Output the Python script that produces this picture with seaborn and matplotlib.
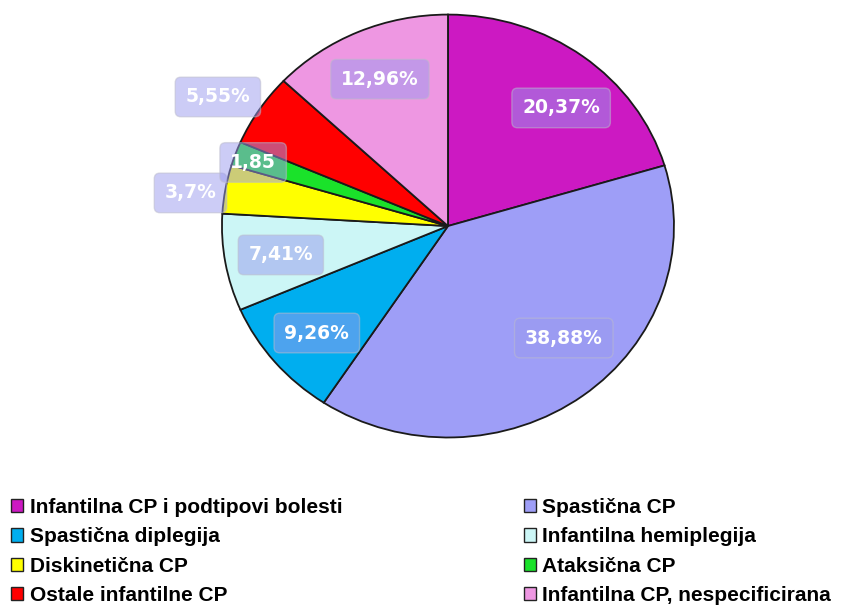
import numpy as np
import matplotlib
matplotlib.use("Agg")
import matplotlib.pyplot as plt
import seaborn as sns

categories = [
    "Infantilna CP i podtipovi bolesti",
    "Spastična CP",
    "Spastična diplegija",
    "Infantilna hemiplegija",
    "Diskinetična CP",
    "Ataksična CP",
    "Ostale infantilne CP",
    "Infantilna CP, nespecificirana",
]
values = [20.37, 38.88, 9.26, 7.41, 3.7, 1.85, 5.55, 12.96]
value_labels = ["20,37%", "38,88%", "9,26%", "7,41%", "3,7%", "1,85", "5,55%", "12,96%"]
colors = ["#CC19C2", "#9E9EF7", "#00AEEF", "#CCF6F6", "#FFFF00", "#1AE22A", "#FF0000", "#EE97E2"]

# value label placement: radial distance (pie radius = 1) and angle offset from the wedge middle
label_r = [0.75, 0.737, 0.77, 0.752, 1.15, 0.913, 1.187, 0.757]
label_dtheta = [-5.2, 7.4, 1.1, 0.5, 2.2, 0.8, 2.4, 0.1]

sns.set_theme(style="white")
plt.rcParams["font.family"] = ["Liberation Sans", "DejaVu Sans"]

fig = plt.figure(figsize=(8.43, 6.05), dpi=100)
ax = fig.add_axes([0.2633, 0.2769, 0.5362, 0.699])

wedges, _ = ax.pie(
    values,
    colors=colors,
    startangle=90,
    counterclock=False,
    radius=1,
    wedgeprops=dict(edgecolor="#1a1a1a", linewidth=1.3),
)
ax.set_aspect("auto")
ax.set_xlim(-1, 1)
ax.set_ylim(-1, 1)
ax.axis("off")

for w, lab, r, dt in zip(wedges, value_labels, label_r, label_dtheta):
    mid = np.deg2rad((w.theta1 + w.theta2) / 2 + dt)
    ax.text(
        r * np.cos(mid), r * np.sin(mid), lab,
        ha="center", va="center", color="white",
        fontsize=13.5, fontweight="bold", family=["DejaVu Sans"],
        bbox=dict(boxstyle="round,pad=0.55,rounding_size=0.3",
                  facecolor="#9A9AEE", alpha=0.5, edgecolor="#BBBBCC", linewidth=1),
    )

left = [0, 2, 4, 6]
right = [1, 3, 5, 7]
for idx, x0 in [(left, 0.013), (right, 0.621)]:
    leg = fig.legend(
        [wedges[i] for i in idx], [categories[i] for i in idx],
        loc="upper left", bbox_to_anchor=(x0, 0.177),
        frameon=False, handlelength=0.6, handleheight=0.6,
        prop=dict(family="Liberation Sans", weight="bold", size=15),
        labelcolor="black",
        handletextpad=0.3, labelspacing=0.5, borderpad=0, borderaxespad=0,
    )
    for h in leg.legend_handles:
        h.set_edgecolor("#222222")
        h.set_linewidth(1.0)

fig.savefig("out.png", dpi=100)
